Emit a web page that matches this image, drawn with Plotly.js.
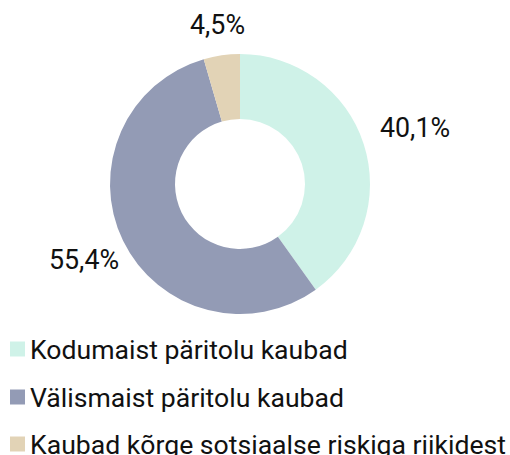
<!DOCTYPE html>
<html>
<head>
<meta charset="utf-8">
<script src="https://cdn.plot.ly/plotly-3.0.1.min.js"></script>
<style>html,body{margin:0;padding:0;background:#fff;}#chart{width:510px;height:455px;}</style>
</head>
<body>
<div id="chart"></div>
<script>
var categories = ["Kodumaist päritolu kaubad", "Välismaist päritolu kaubad", "Kaubad kõrge sotsiaalse riskiga riikidest"];
var shares = [40.1, 55.4, 4.5];
var colors = ["#cff2e8", "#939bb5", "#e2d3b6"];

var W = 510, H = 455;
var FS = 26.8, LFS = 26.6;
var pie = {cx: 240, cy: 184, r: 130};
var trace = {
  type: "pie",
  labels: categories,
  values: shares,
  sort: false,
  direction: "clockwise",
  rotation: 0,
  hole: 0.5,
  marker: {colors: colors, line: {width: 0}},
  textinfo: "none",
  showlegend: false,
  domain: {x: [(pie.cx - pie.r) / W, (pie.cx + pie.r) / W], y: [(H - pie.cy - pie.r) / H, (H - pie.cy + pie.r) / H]},
  hoverinfo: "label+value"
};

var shapes = [], annotations = [];
// percentage labels outside the ring, placed along the slice mid-angles
var total = shares.reduce(function (a, b) { return a + b; }, 0);
var cum = 0, anchorR = pie.r + 20;
for (var k = 0; k < shares.length; k++) {
  var mid = (cum + shares[k] / 2) / total * 2 * Math.PI;
  cum += shares[k];
  var txt = shares[k].toFixed(1).replace(".", ",") + "%";
  var sx = Math.sin(mid), cy = -Math.cos(mid);
  var bw = txt.length * 0.5 * FS, bh = 0.78 * FS;
  var edge = Math.min(bw / 2 / Math.max(Math.abs(sx), 1e-6), bh / 2 / Math.max(Math.abs(cy), 1e-6));
  var R = anchorR + edge;
  var px = pie.cx + R * sx, py = pie.cy + R * cy;
  annotations.push({xref: "paper", yref: "paper", x: px / W, y: 1 - py / H,
    xanchor: "center", yanchor: "middle", showarrow: false, text: txt,
    font: {family: "Roboto", size: FS, color: "#111"}});
}

var legendY = [349, 397, 444];
for (var i = 0; i < categories.length; i++) {
  shapes.push({type: "rect", xref: "paper", yref: "paper",
    x0: 10 / W, x1: 25 / W, y0: 1 - (legendY[i] + 7.5) / H, y1: 1 - (legendY[i] - 7.5) / H,
    fillcolor: colors[i], line: {width: 0}});
  annotations.push({xref: "paper", yref: "paper", x: 28 / W, y: 1 - legendY[i] / H,
    xanchor: "left", yanchor: "middle", showarrow: false, text: categories[i],
    font: {family: "Roboto", size: LFS, color: "#111"}});
}

var layout = {
  width: W, height: H,
  margin: {l: 0, r: 0, t: 0, b: 0},
  paper_bgcolor: "#fff",
  font: {family: "Roboto", size: FS, color: "#111"},
  shapes: shapes,
  annotations: annotations
};
Plotly.newPlot("chart", [trace], layout, {displayModeBar: false, staticPlot: true});
</script>
</body>
</html>
